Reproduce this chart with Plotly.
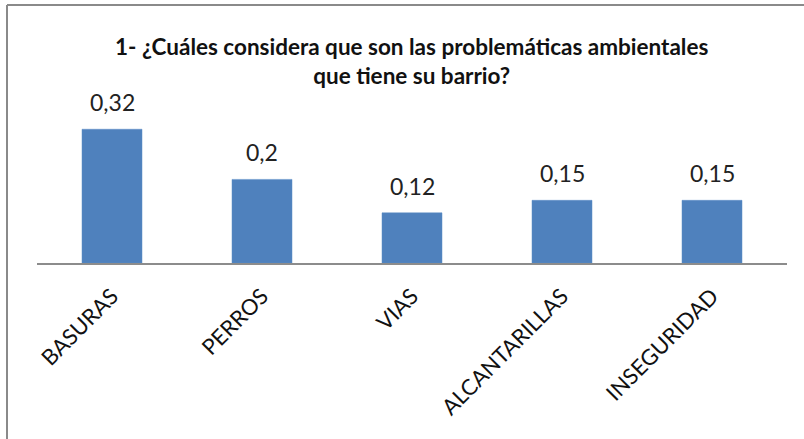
import plotly.graph_objects as go

categories = ["BASURAS", "PERROS", "VIAS", "ALCANTARILLAS", "INSEGURIDAD"]
values = [0.32, 0.2, 0.12, 0.15, 0.15]
title_lines = ["1- ¿Cuáles considera que son las problemáticas ambientales",
               "que tiene su barrio?"]

labels = [str(v).replace(".", ",") for v in values]

W, H = 804, 439
L, R = 37, 17
PLOT_TOP, PLOT_BOTTOM = 100, 263
T, B = PLOT_TOP, H - PLOT_BOTTOM
ph = PLOT_BOTTOM - PLOT_TOP
pw = W - L - R
ppu = 418.0  # pixels per unit
ymax = ph / ppu

def px_to_paper_x(px):
    return (px - L) / pw

def px_to_paper_y(py):
    return (PLOT_BOTTOM - py) / ph

fig = go.Figure()
fig.add_trace(go.Bar(
    x=categories, y=values,
    cliponaxis=False,
    marker=dict(color="#4F81BD", line=dict(color="#5B8CC6", width=0.5)),
    width=0.4,
    hoverinfo="skip",
))

for c, v, t in zip(categories, values, labels):
    fig.add_annotation(x=c, y=v, text=t, showarrow=False,
                       xanchor="center", yanchor="bottom", yshift=11,
                       font=dict(family="Lato", size=23, color="#222222"))

fig.update_layout(
    width=W, height=H,
    margin=dict(l=L, r=R, t=T, b=B, autoexpand=False),
    paper_bgcolor="white", plot_bgcolor="white",
    showlegend=False,
    font=dict(family="Lato", color="#222222"),
    xaxis=dict(showline=True, linecolor="#8C8C8C", linewidth=1.5,
               tickangle=-45, tickfont=dict(family="Lato", size=22, color="#111111"),
               ticklabelstandoff=10,
               ticks="", showgrid=False, range=[-0.5, 4.5], fixedrange=True),
    yaxis=dict(visible=False, range=[0, ymax], showgrid=False, fixedrange=True),
)

fig.add_annotation(text="<b>" + title_lines[0] + "</b><br><b>" + title_lines[1] + "</b>",
                   xref="paper", yref="paper",
                   x=px_to_paper_x(411), y=px_to_paper_y(31),
                   xanchor="center", yanchor="top", showarrow=False,
                   font=dict(family="Lato", size=22.5, color="#111111"), align="center")

# chart border (top and left visible)
fig.add_shape(type="line", xref="paper", yref="paper",
              x0=px_to_paper_x(7), x1=px_to_paper_x(W + 5),
              y0=px_to_paper_y(5), y1=px_to_paper_y(5),
              line=dict(color="#8A8A8A", width=2))
fig.add_shape(type="line", xref="paper", yref="paper",
              x0=px_to_paper_x(7), x1=px_to_paper_x(7),
              y0=px_to_paper_y(5), y1=px_to_paper_y(H + 5),
              line=dict(color="#8A8A8A", width=2))

fig.write_html("out.html", config={"displayModeBar": False},
               post_script="document.body.style.margin='0';")
